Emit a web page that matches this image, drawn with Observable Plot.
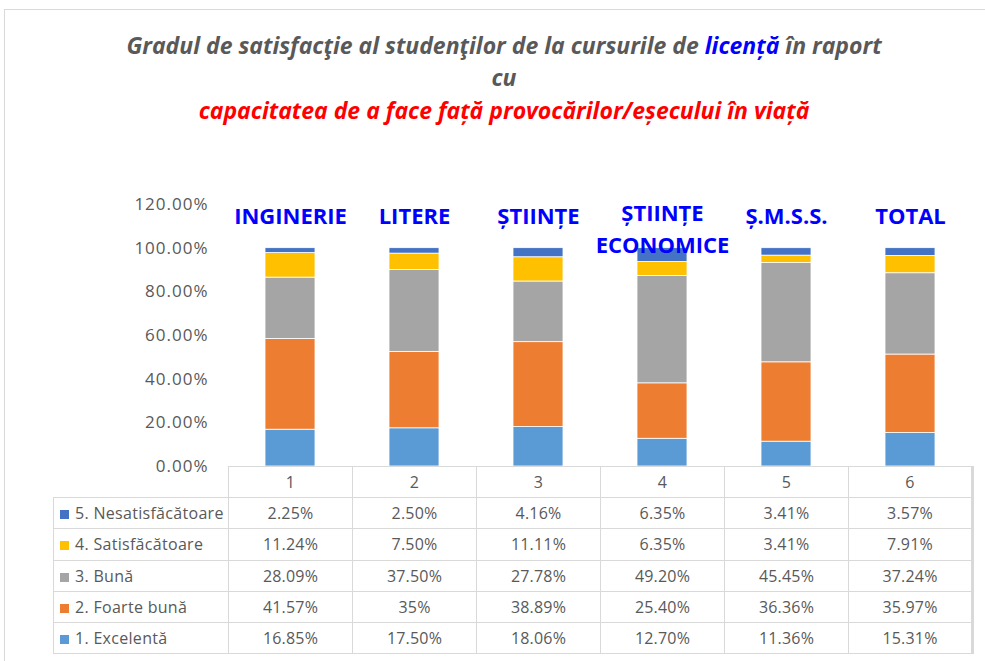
<!DOCTYPE html>
<html>
<head>
<meta charset="utf-8">
<script src="https://cdn.jsdelivr.net/npm/d3@7"></script>
<script src="https://cdn.jsdelivr.net/npm/@observablehq/plot@0.6"></script>
<style>
  html, body { margin: 0; padding: 0; background: #fff; }
  body { width: 985px; height: 661px; position: relative; overflow: hidden; font-family: "Open Sans", sans-serif; }
  .frame { position: absolute; left: 4px; top: 9px; right: 0; bottom: -5px; border-top: 1.5px solid #d9d9d9; border-left: 1.5px solid #d9d9d9; }
  .title { position: absolute; left: 20px; width: 968px; text-align: center; font-weight: bold; font-style: italic; font-size: 23px; line-height: 32px; color: #595959; white-space: nowrap; }
  #chart { position: absolute; left: 0; top: 180px; }
  #chart g[aria-label="y-axis tick label"] text { letter-spacing: 1px; }
  #table { position: absolute; left: 53px; top: 466px; border-collapse: collapse; table-layout: fixed; width: 919px; color: #595959; font-size: 16px; }
  #table td { border: 1.5px solid #d9d9d9; height: 31.3px; box-sizing: border-box; padding: 0; text-align: center; letter-spacing: 0.2px; }
  #table tr.head td { height: 31px; }
  #table td.empty { border: none; }
  #table td.last { border-right: 3px solid #d9d9d9; }
  #table td.leg { text-align: left; padding-left: 6px; white-space: nowrap; letter-spacing: 0.3px; }
  .sw { display: inline-block; width: 9px; height: 9px; margin-right: 6px; vertical-align: 0px; }
</style>
</head>
<body>
<div class="frame"></div>
<div class="title" style="top:29px">Gradul de satisfacţie al studenţilor de la cursurile de <span style="color:#0000ff">licență</span> în raport</div>
<div class="title" style="top:61px">cu</div>
<div class="title" style="top:94px;color:#ff0000">capacitatea de a face față provocărilor/eșecului în viață</div>
<div id="chart"></div>
<table id="table"></table>
<script>
const columns = ["1", "2", "3", "4", "5", "6"];
const faculties = ["INGINERIE", "LITERE", "ȘTIINȚE", "ȘTIINȚE\nECONOMICE", "Ș.M.S.S.", "TOTAL"];
const levels = ["1. Excelentă", "2. Foarte bună", "3. Bună", "4. Satisfăcătoare", "5. Nesatisfăcătoare"];
const levelColors = ["#5b9bd5", "#ed7d31", "#a5a5a5", "#ffc000", "#4472c4"];
const excelenta = [16.85, 17.50, 18.06, 12.70, 11.36, 15.31];
const foarteBuna = [41.57, 35, 38.89, 25.40, 36.36, 35.97];
const buna = [28.09, 37.50, 27.78, 49.20, 45.45, 37.24];
const satisfacatoare = [11.24, 7.50, 11.11, 6.35, 3.41, 7.91];
const nesatisfacatoare = [2.25, 2.50, 4.16, 6.35, 3.41, 3.57];
const yTicks = [0, 0.2, 0.4, 0.6, 0.8, 1.0, 1.2];

const series = [excelenta, foarteBuna, buna, satisfacatoare, nesatisfacatoare];
const rows = [];
series.forEach((vals, i) => vals.forEach((v, j) => rows.push({col: columns[j], level: levels[i], value: v / 100})));
const labelRows = faculties.map((name, j) => ({col: columns[j], name, multi: name.includes("\n")}));

const chart = Plot.plot({
  width: 985,
  height: 300,
  marginLeft: 228,
  marginRight: 13,
  marginTop: 24,
  marginBottom: 14,
  style: {color: "#595959", fontFamily: "Open Sans, sans-serif", background: "transparent", overflow: "visible"},
  x: {domain: columns, paddingInner: 0.6, paddingOuter: 0.3, axis: null},
  y: {domain: [0, 1.2]},
  color: {domain: levels, range: levelColors},
  marks: [
    Plot.axisY({ticks: yTicks, tickSize: 0, tickPadding: 20, fontSize: 17, tickFormat: d => (d * 100).toFixed(2) + "%", label: null}),
    Plot.barY(rows, {x: "col", y: "value", fill: "level", stroke: "white", strokeWidth: 0.8}),
    Plot.text(labelRows, {x: "col", y: d => d.multi ? 1.098 : 1.158, text: "name", fill: "#0000ff", fontWeight: "bold", fontSize: 22, lineHeight: 1.45, fontFamily: "Open Sans, sans-serif"})
  ]
});
document.getElementById("chart").appendChild(chart);

const fmt = v => Number.isInteger(v) ? v + "%" : v.toFixed(2) + "%";
const table = document.getElementById("table");
let html = '<colgroup><col style="width:175px">' + columns.map(() => '<col style="width:124px">').join("") + '</colgroup>';
html += '<tr class="head"><td class="empty"></td>' + columns.map((c, j) => `<td${j === columns.length - 1 ? ' class="last"' : ''}>${c}</td>`).join("") + "</tr>";
for (let i = levels.length - 1; i >= 0; i--) {
  html += `<tr><td class="leg"><span class="sw" style="background:${levelColors[i]}"></span>${levels[i]}</td>` +
    series[i].map((v, j) => `<td${j === columns.length - 1 ? ' class="last"' : ''}>${fmt(v)}</td>`).join("") + "</tr>";
}
table.innerHTML = html;
</script>
</body>
</html>
